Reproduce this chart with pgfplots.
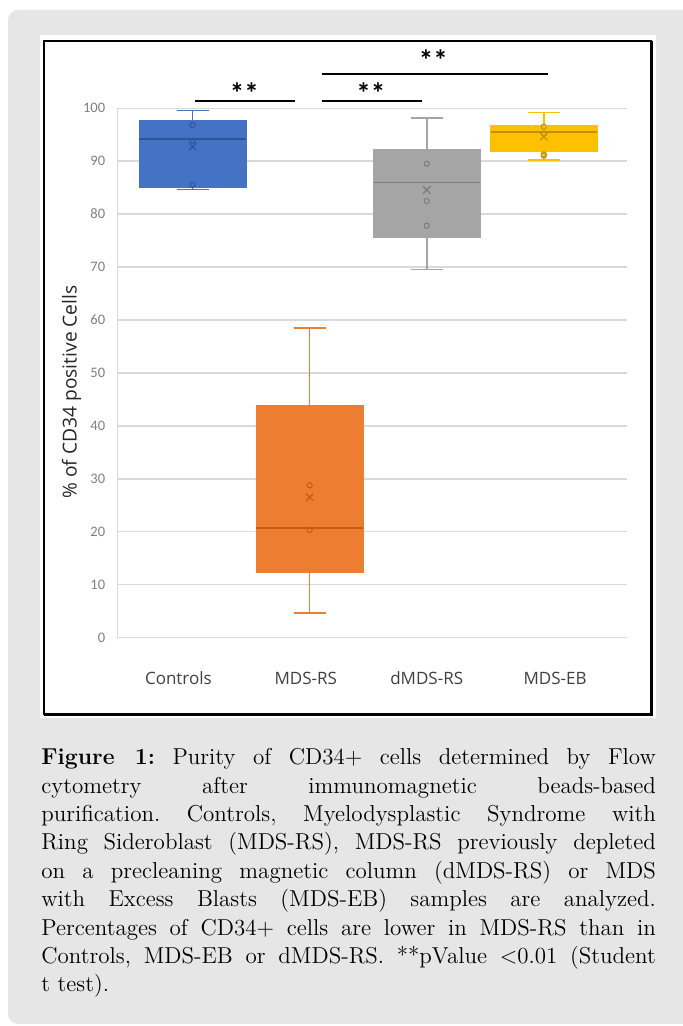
\documentclass[border=0pt]{standalone}
\usepackage{fontspec}
\usepackage{pgfplots}
\pgfplotsset{compat=1.18}
\usepgfplotslibrary{statistics}
\newfontfamily\carlito{Carlito}
\newfontfamily\opensans{Open Sans}
\definecolor{panel}{HTML}{E6E6E6}
\definecolor{gridgray}{HTML}{D9D9D9}
\definecolor{tickgray}{HTML}{808080}
\definecolor{labdark}{HTML}{404040}
\definecolor{cblue}{HTML}{4472C4}
\definecolor{cbluedk}{HTML}{2F5597}
\definecolor{corange}{HTML}{ED7D31}
\definecolor{corangedk}{HTML}{C55A11}
\definecolor{cgray}{HTML}{A5A5A5}
\definecolor{cgraydk}{HTML}{7B7B7B}
\definecolor{cgold}{HTML}{FFC000}
\definecolor{cgolddk}{HTML}{BF9000}

\pgfplotsset{
  bx/.style 2 args={draw=#1, fill=#1, line width=0.8pt,
    boxplot/box extend=0.909, boxplot/whisker extend=0.273,
    boxplot/every whisker/.style={draw=#1, line width=0.8pt},
    boxplot/every median/.style={draw=#2, line width=0.8pt}},
  pts/.style={only marks, mark=o, mark size=1.3pt,
    mark options={draw=#1, line width=0.5pt}},
  avg/.style={only marks, mark=x, mark size=2.6pt,
    mark options={draw=#1, line width=0.6pt}},
}
\tikzset{stars/.style={font=\carlito\bfseries\fontsize{14.5}{15}\selectfont}}

\begin{document}
\begin{tikzpicture}[x=0.5pt,y=-0.5pt]
\useasboundingbox (0,0) rectangle (683,1026);
\begin{scope}
  \clip (0,0) rectangle (683,1026);
  \fill[panel, rounded corners=5pt] (8,10) rectangle (720,1024);
\end{scope}
\fill[white] (40,35) rectangle (656,718);
\draw[black, line width=0.7pt] (44,41) rectangle (651,714);
\draw[black, line width=1.5pt] (44,714) -- (651,714) -- (651,41);

\begin{axis}[
    at={(58.75pt,-318.85pt)}, anchor=south west,
    scale only axis,
    width=254.6pt, height=264.75pt,
    xmin=0.359, xmax=4.708,
    ymin=0, ymax=100,
    ytick={0,10,...,100},
    xtick={0.879,1.967,3.0,4.096},
    xticklabels={Controls,MDS-RS,dMDS-RS,MDS-EB},
    major tick length=0pt,
    axis line style={draw=none},
    ymajorgrids,
    grid style={draw=gridgray, line width=0.65pt},
    clip=false,
    /pgf/number format/assume math mode=true,
    yticklabel style={font=\carlito\fontsize{7.25}{8}\selectfont, text=tickgray,
      anchor=east, inner sep=0pt, xshift=-6pt},
    xticklabel style={font=\opensans\fontsize{8.5}{10}\selectfont, text=labdark,
      anchor=base, inner sep=0pt, yshift=-23.2pt},
    boxplot/draw direction=y,
]
\draw[gridgray, line width=0.65pt] (rel axis cs:0,0) -- (rel axis cs:0,1);

% Controls
\addplot[bx={cblue}{cbluedk}, boxplot prepared={lower whisker=84.68, lower quartile=85.17,
  median=94.13, upper quartile=97.53, upper whisker=99.6, draw position=1}] coordinates {};
\addplot[pts=cbluedk] coordinates {(1,96.83) (1,93.86) (1,85.55)};
\addplot[avg=cbluedk] coordinates {(1,92.73)};

% MDS-RS
\addplot[bx={corange}{corangedk}, boxplot prepared={lower whisker=4.72, lower quartile=12.46,
  median=20.72, upper quartile=43.76, upper whisker=58.49, draw position=2}] coordinates {};
\addplot[pts=corangedk] coordinates {(2,28.78) (2,20.34)};
\addplot[avg=corangedk] coordinates {(2,26.52)};

% dMDS-RS
\addplot[bx={cgray}{cgraydk}, boxplot prepared={lower whisker=69.57, lower quartile=75.62,
  median=85.93, upper quartile=92.1, upper whisker=98.15, draw position=3}] coordinates {};
\addplot[pts=cgraydk] coordinates {(3,89.52) (3,82.47) (3,77.81)};
\addplot[avg=cgraydk] coordinates {(3,84.55)};

% MDS-EB
\addplot[bx={cgold}{cgolddk}, boxplot prepared={lower whisker=90.27, lower quartile=91.97,
  median=95.56, upper quartile=96.77, upper whisker=99.22, draw position=4}] coordinates {};
\addplot[pts=cgolddk] coordinates {(4,96.5) (4,95.2) (4,91.29) (4,91.03)};
\addplot[avg=cgolddk] coordinates {(4,94.62)};

% significance bars
\addplot[black, line width=1pt] coordinates {(1.021,101.42) (1.878,101.42)};
\addplot[black, line width=1pt] coordinates {(2.103,101.42) (2.962,101.42)};
\addplot[black, line width=1pt] coordinates {(2.103,106.4) (4.036,106.4)};
\node[stars] at (axis cs:1.442,102.9) {**};
\node[stars] at (axis cs:2.522,102.8) {**};
\node[stars] at (axis cs:3.056,109.1) {**};
\end{axis}

\node[rotate=90, font=\opensans\fontsize{9.6}{11}\selectfont, text=black!85] at (71.7,392)
  {\% of CD34 positive Cells};

\node[anchor=north west, inner sep=0pt, text width=307.25pt, align=justify,
  font=\fontsize{11.5}{14.2}\selectfont] at (41,748) {\frenchspacing\pretolerance=-1\tolerance=10000\hyphenpenalty=10000
\textbf{Figure 1:} Purity of CD34+ cells determined by Flow\linebreak
cytometry after immunomagnetic beads-based\linebreak
purification. Controls, Myelodysplastic Syndrome with\linebreak
Ring Sideroblast (MDS-RS), MDS-RS previously depleted\linebreak
on a precleaning magnetic column (dMDS-RS) or MDS\linebreak
with Excess Blasts (MDS-EB) samples are analyzed.\linebreak
Percentages of CD34+ cells are lower in MDS-RS than in\linebreak
Controls, MDS-EB or dMDS-RS. **pValue <0.01 (Student\linebreak
t test).};
\end{tikzpicture}
\end{document}
